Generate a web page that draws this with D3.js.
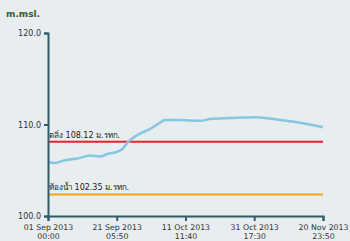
<!DOCTYPE html>
<head>
    <meta charset="utf-8">
    <script src="https://d3js.org/d3.v7.min.js"></script>
    <style>
        body { margin:0; background:#e8edef; }
        text { font-family: "DejaVu Sans", sans-serif; }
    </style>
</head>
<body>
    <svg id="svgelem" width="350" height="241"></svg>
    <script>
        // water level readings (m.msl.)
        var dates = ["2013-09-01 00:00","2013-09-03 02:00","2013-09-06 00:00","2013-09-09 20:00","2013-09-13 10:00",
                     "2013-09-16 07:00","2013-09-18 17:00","2013-09-21 07:00","2013-09-22 20:00","2013-09-24 14:00",
                     "2013-09-28 02:00","2013-10-01 00:00","2013-10-04 00:00","2013-10-05 12:00","2013-10-09 22:00",
                     "2013-10-15 20:00","2013-10-18 17:00","2013-10-24 14:00","2013-11-01 00:00","2013-11-08 07:00",
                     "2013-11-14 05:00","2013-11-20 23:50"];
        var levels = [105.9,105.8,106.1,106.3,106.6,106.5,106.8,107.0,107.3,108.1,
                      109.0,109.5,110.2,110.5,110.5,110.4,110.6,110.7,110.8,110.5,
                      110.2,109.7];
        var xTicks = ["2013-09-01 00:00","2013-09-21 05:50","2013-10-11 11:40","2013-10-31 17:30","2013-11-20 23:50"];
        var yTicks = [100, 110, 120];
        var refNames = ["ตลิ่ง 108.12 ม.รทก.", "ท้องน้ำ 102.35 ม.รทก."];
        var refValues = [108.12, 102.35];
        var refColors = ["#e8242a", "#f5a312"];

        var parse = d3.timeParse("%Y-%m-%d %H:%M");
        var data = dates.map(function(d, i) { return {t: parse(d), v: levels[i]}; });

        var svg = d3.select("#svgelem");
        var x = d3.scaleTime().domain([parse(xTicks[0]), parse(xTicks[4])]).range([48, 323]);
        var y = d3.scaleLinear().domain([100, 120]).range([216, 33]);

        svg.append("text").attr("x", 6).attr("y", 17)
            .attr("font-size", "9px").attr("font-weight", "bold").attr("fill", "#3d5a2a")
            .text("m.msl.");

        // reference lines
        refValues.forEach(function(v, i) {
            svg.append("line").attr("x1", x.range()[0]).attr("x2", x.range()[1])
                .attr("y1", y(v)).attr("y2", y(v))
                .attr("stroke", refColors[i]).attr("stroke-width", 2);
            svg.append("text").attr("x", 49).attr("y", y(v) - 4)
                .attr("font-size", "8px").attr("fill", "#222")
                .text(refNames[i]);
        });

        var line = d3.line().x(function(d) { return x(d.t); }).y(function(d) { return y(d.v); })
            .curve(d3.curveMonotoneX);
        svg.append("path").datum(data).attr("d", line)
            .attr("fill", "none").attr("stroke", "#85c7e2").attr("stroke-width", 2.5);

        var fmt1 = d3.timeFormat("%d %b %Y"), fmt2 = d3.timeFormat("%H:%M");
        var xAxis = svg.append("g").attr("transform", "translate(0,216)")
            .call(d3.axisBottom(x).tickValues(xTicks.map(parse)).tickSize(5).tickFormat(""));
        xAxis.selectAll(".tick").append("text").attr("fill", "#333").attr("font-size", "7.8px")
            .attr("text-anchor", "middle").attr("y", 14).text(function(d) { return fmt1(d); });
        xAxis.selectAll(".tick").append("text").attr("fill", "#333").attr("font-size", "7.8px")
            .attr("text-anchor", "middle").attr("y", 22.5).text(function(d) { return fmt2(d); });

        var yAxis = svg.append("g").attr("transform", "translate(48,0)")
            .call(d3.axisLeft(y).tickValues(yTicks).tickSize(4).tickFormat(d3.format(".1f")));
        yAxis.selectAll("text").attr("fill", "#333").attr("font-size", "8px")
            .attr("font-family", "DejaVu Sans, sans-serif");

        svg.selectAll(".domain, .tick line").attr("stroke", "#2f5d6b").attr("stroke-width", 2);
    </script>
</body>
